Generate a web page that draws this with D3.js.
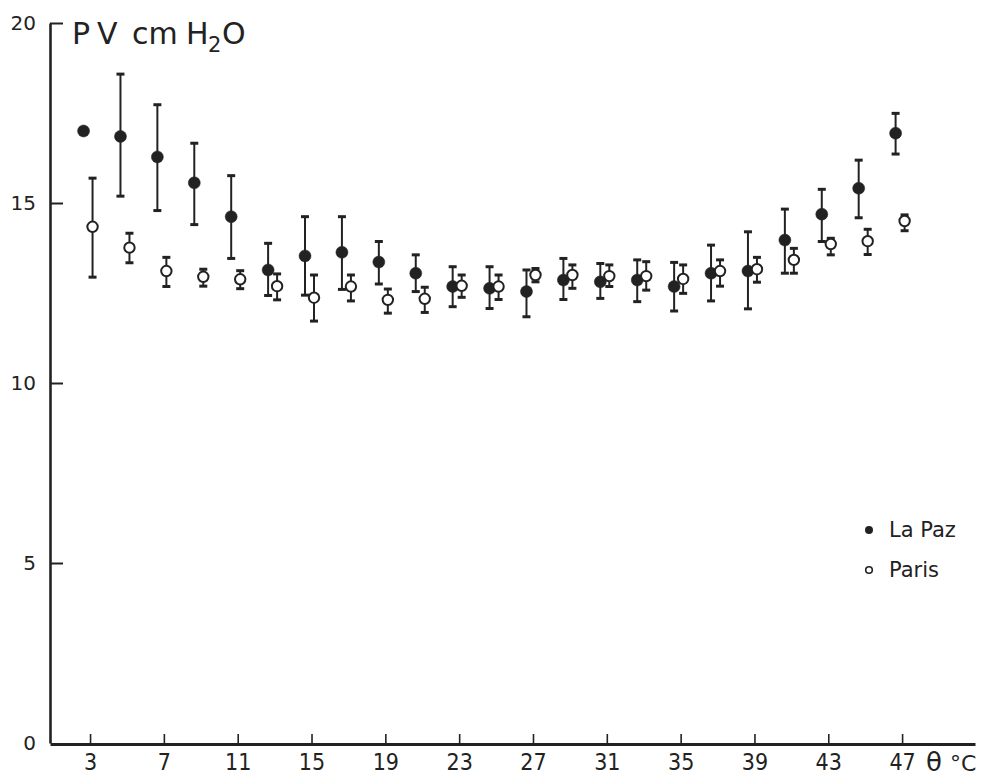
<!DOCTYPE html>
<html>
<head>
<meta charset="utf-8">
<script src="https://cdn.jsdelivr.net/npm/d3@7"></script>
<style>
  html, body { margin: 0; padding: 0; background: #fff; }
  svg { display: block; }
</style>
</head>
<body>
<svg id="chart" width="983" height="778"></svg>
<script>
// ---- data ----
const temps = [3,5,7,9,11,13,15,17,19,21,23,25,27,29,31,33,35,37,39,41,43,45,47];
const xTickValues = [3,7,11,15,19,23,27,31,35,39,43,47];
const yTickValues = [0,5,10,15,20];

const lapazMean = [17.0,16.85,16.28,15.56,14.62,13.14,13.53,13.63,13.36,13.05,12.68,12.63,12.54,12.86,12.81,12.86,12.68,13.05,13.11,13.97,14.69,15.41,16.94];
const lapazLow  = [null,15.19,14.79,14.40,13.46,12.43,12.44,12.60,12.75,12.54,12.12,12.07,11.84,12.32,12.35,12.26,12.00,12.28,12.06,13.05,13.93,14.59,16.36];
const lapazHigh = [null,18.58,17.73,16.66,15.76,13.88,14.62,14.62,13.93,13.56,13.23,13.23,13.14,13.46,13.32,13.42,13.35,13.83,14.20,14.83,15.38,16.19,17.49];

const parisMean = [14.34,13.76,13.11,12.95,12.88,12.69,12.37,12.68,12.31,12.34,12.70,12.68,13.00,13.00,12.97,12.97,12.89,13.11,13.16,13.42,13.86,13.94,14.50];
const parisLow  = [12.94,13.34,12.68,12.69,12.62,12.31,11.72,12.28,11.94,11.96,12.38,12.32,12.81,12.63,12.68,12.58,12.49,12.69,12.80,13.05,13.56,13.57,14.23];
const parisHigh = [15.69,14.16,13.49,13.16,13.12,13.03,13.00,13.00,12.61,12.66,13.00,13.00,13.18,13.28,13.28,13.37,13.28,13.42,13.49,13.74,14.02,14.27,14.67];

// ---- setup ----
const ink = "#222";
const svg = d3.select("#chart");
const x = d3.scaleLinear().domain([0.83, 50.95]).range([50, 975]);
const y = d3.scaleLinear().domain([0, 20]).range([743, 23]);

// y axis
const yAxis = d3.axisLeft(y).tickValues(yTickValues).tickSizeInner(-13).tickSizeOuter(0).tickPadding(14).tickFormat(d3.format("d"));
const gy = svg.append("g").attr("transform", "translate(50,0)").call(yAxis);
gy.select(".domain").attr("stroke", ink).attr("stroke-width", 2.6);
gy.selectAll(".tick line").attr("stroke", ink).attr("stroke-width", 2).filter(d => d === 0).remove();
gy.selectAll(".tick text").attr("fill", ink).attr("font-family", "DejaVu Sans, sans-serif").attr("font-size", 20);

// x axis
const xAxis = d3.axisBottom(x).tickValues(xTickValues).tickSizeInner(-10).tickSizeOuter(0).tickPadding(10);
const gx = svg.append("g").attr("transform", "translate(0,744)").call(xAxis);
gx.select(".domain").attr("stroke", ink).attr("stroke-width", 2.8);
gx.selectAll(".tick line").attr("stroke", ink).attr("stroke-width", 1.6);
gx.selectAll(".tick text").attr("fill", ink).attr("font-family", "DejaVu Sans Condensed, DejaVu Sans, sans-serif").attr("font-size", 23);

// axis unit label
svg.append("text").attr("x", 926).attr("y", 771).attr("fill", ink)
  .attr("font-family", "DejaVu Sans, sans-serif").attr("font-size", 26).text("θ");
svg.append("text").attr("x", 950).attr("y", 771).attr("fill", ink)
  .attr("font-family", "DejaVu Sans, sans-serif").attr("font-size", 22).text("°C");

// title
const title = svg.append("text").attr("y", 44).attr("fill", ink)
  .attr("font-family", "DejaVu Sans, sans-serif").attr("font-size", 30);
title.append("tspan").attr("x", 72).text("P");
title.append("tspan").attr("x", 97).text("V");
title.append("tspan").attr("x", 132).text("cm");
title.append("tspan").attr("x", 186).text("H");
title.append("tspan").attr("x", 208).attr("dy", 8).attr("font-size", 21).text("2");
title.append("tspan").attr("x", 222).attr("dy", -8).text("O");

// ---- series ----
function drawSeries(mean, low, high, dx, filled) {
  const g = svg.append("g");
  const rows = temps.map((t, i) => ({t, m: mean[i], lo: low[i], hi: high[i]}));
  const withErr = rows.filter(d => d.lo !== null && d.hi !== null);
  g.selectAll("line.err").data(withErr).join("line")
    .attr("x1", d => x(d.t) + dx).attr("x2", d => x(d.t) + dx)
    .attr("y1", d => y(d.lo)).attr("y2", d => y(d.hi))
    .attr("stroke", ink).attr("stroke-width", 2);
  ["lo", "hi"].forEach(k => {
    g.selectAll("line.cap" + k).data(withErr).join("line")
      .attr("x1", d => x(d.t) + dx - 4).attr("x2", d => x(d.t) + dx + 4)
      .attr("y1", d => y(d[k])).attr("y2", d => y(d[k]))
      .attr("stroke", ink).attr("stroke-width", 3);
  });
  g.selectAll("circle").data(rows).join("circle")
    .attr("cx", d => x(d.t) + dx).attr("cy", d => y(d.m))
    .attr("r", filled ? 6 : 5.2)
    .attr("fill", filled ? ink : "#fff")
    .attr("stroke", ink).attr("stroke-width", filled ? 0.5 : 2);
}
drawSeries(lapazMean, lapazLow, lapazHigh, -6.5, true);
drawSeries(parisMean, parisLow, parisHigh, 2.5, false);

// ---- legend ----
svg.append("circle").attr("cx", 869).attr("cy", 530).attr("r", 4).attr("fill", ink);
svg.append("circle").attr("cx", 869).attr("cy", 570).attr("r", 3.3).attr("fill", "#fff").attr("stroke", ink).attr("stroke-width", 1.6);
svg.append("text").attr("x", 889).attr("y", 537).attr("fill", ink)
  .attr("font-family", "DejaVu Sans, sans-serif").attr("font-size", 21).text("La Paz");
svg.append("text").attr("x", 889).attr("y", 577).attr("fill", ink)
  .attr("font-family", "DejaVu Sans, sans-serif").attr("font-size", 21).text("Paris");
</script>
</body>
</html>
